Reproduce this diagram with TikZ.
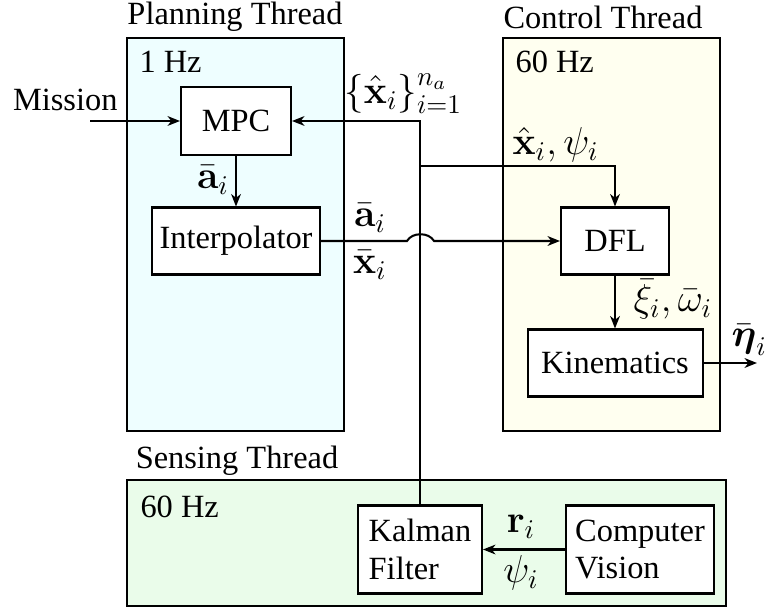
\documentclass[tikz,border=0pt]{standalone}
\usepackage{amsmath}
\usepackage[no-math]{fontspec}
\setmainfont{Liberation Serif}
\usetikzlibrary{arrows.meta}
\definecolor{planfill}{RGB}{238,254,255}
\definecolor{ctrlfill}{RGB}{255,255,240}
\definecolor{sensfill}{RGB}{234,252,234}
\def\u{0.3704pt}
\tikzset{
  every node/.style={font=\fontsize{12}{13.8}\selectfont, inner sep=0pt},
  thread/.style={draw, line width=0.75pt},
  blk/.style={draw, fill=white, line width=0.75pt, align=left},
  arr/.style={line width=0.75pt, -{Stealth[length=4.6pt, width=3.6pt, inset=1.4pt]}},
  wire/.style={line width=0.75pt},
  lbl/.style={inner sep=0pt, font=\fontsize{14.4}{17}\selectfont}
}
\begin{document}
\begin{tikzpicture}[x=0.3704pt, y=-0.3704pt]
\useasboundingbox (0,0) rectangle (773,611);
% thread boxes
\node[thread, fill=planfill, minimum width=217*\u, minimum height=393*\u] (plan) at (235.5,234.5) {};
\node[thread, fill=ctrlfill, minimum width=217*\u, minimum height=393*\u] (ctrl) at (611.5,234.5) {};
\node[thread, fill=sensfill, minimum width=599*\u, minimum height=126*\u] (sens) at (426.5,543) {};
% thread titles
\node (tplan) at (235,17) {Planning Thread};
\node (tctrl) at (603,17) {Control Thread};
\node (tsens) at (237,461) {Sensing Thread};
\node[anchor=west] (f1) at (139,62) {1 Hz};
\node[anchor=west] (f2) at (515,62) {60 Hz};
\node[anchor=west] (f3) at (140,507) {60 Hz};
% blocks
\node[blk, minimum width=110*\u, minimum height=68*\u] (mpc) at (236,121) {MPC};
\node[blk, minimum width=168*\u, minimum height=67*\u] (interp) at (236,241) {Interpolator};
\node[blk, minimum width=108*\u, minimum height=67*\u] (dfl) at (615,241) {DFL};
\node[blk, minimum width=175*\u, minimum height=67*\u] (kin) at (615,363) {Kinematics};
\node[blk, minimum width=124*\u, minimum height=88*\u] (kal) at (420,549.5) {Kalman\\Filter};
\node[blk, minimum width=148*\u, minimum height=88*\u] (cv) at (640,549.5) {Computer\\Vision};
% connectors
\coordinate (mis) at (90,121);
\node[anchor=east] (tmis) at (118,100) {Mission};
\draw[arr] (mis) -- (mpc.west);
\draw[arr] (mpc.south) -- (interp.north);
\node[lbl] (la1) at (213,180) {$\bar{\mathbf{a}}_i$};
\coordinate (top) at (420,121);
\coordinate (br) at (420,166);
\draw[wire] (kal.north) -- (br);
\draw[arr] (br) -- (top) -- (mpc.east);
\draw[arr] (br) -| (dfl.north);
\node[lbl, anchor=west] (lset) at (344,94) {$\{\hat{\mathbf{x}}_i\}_{i=1}^{n_a}$};
\node[lbl, anchor=west] (lxh) at (512,145) {$\hat{\mathbf{x}}_i, \psi_i$};
\coordinate (j1) at (407,241);
\coordinate (j2) at (434,241);
\draw[arr] (interp.east) -- (j1) .. controls (412,232) and (429,232) .. (j2) -- (dfl.west);
\node[lbl] (la2) at (370,218) {$\bar{\mathbf{a}}_i$};
\node[lbl] (lx2) at (370,265) {$\bar{\mathbf{x}}_i$};
\draw[arr] (dfl.south) -- (kin.north);
\node[lbl, anchor=west] (lxi) at (633,299) {$\bar{\xi}_i, \bar{\omega}_i$};
\coordinate (out) at (757,363);
\draw[arr] (kin.east) -- (out);
\node[lbl, anchor=west] (leta) at (731,340) {$\bar{\boldsymbol{\eta}}_i$};
\draw[arr] (cv.west) -- (kal.east);
\node[lbl] (lr) at (521,527) {$\mathbf{r}_i$};
\node[lbl] (lpsi) at (521,573) {$\psi_i$};
\end{tikzpicture}
\end{document}
